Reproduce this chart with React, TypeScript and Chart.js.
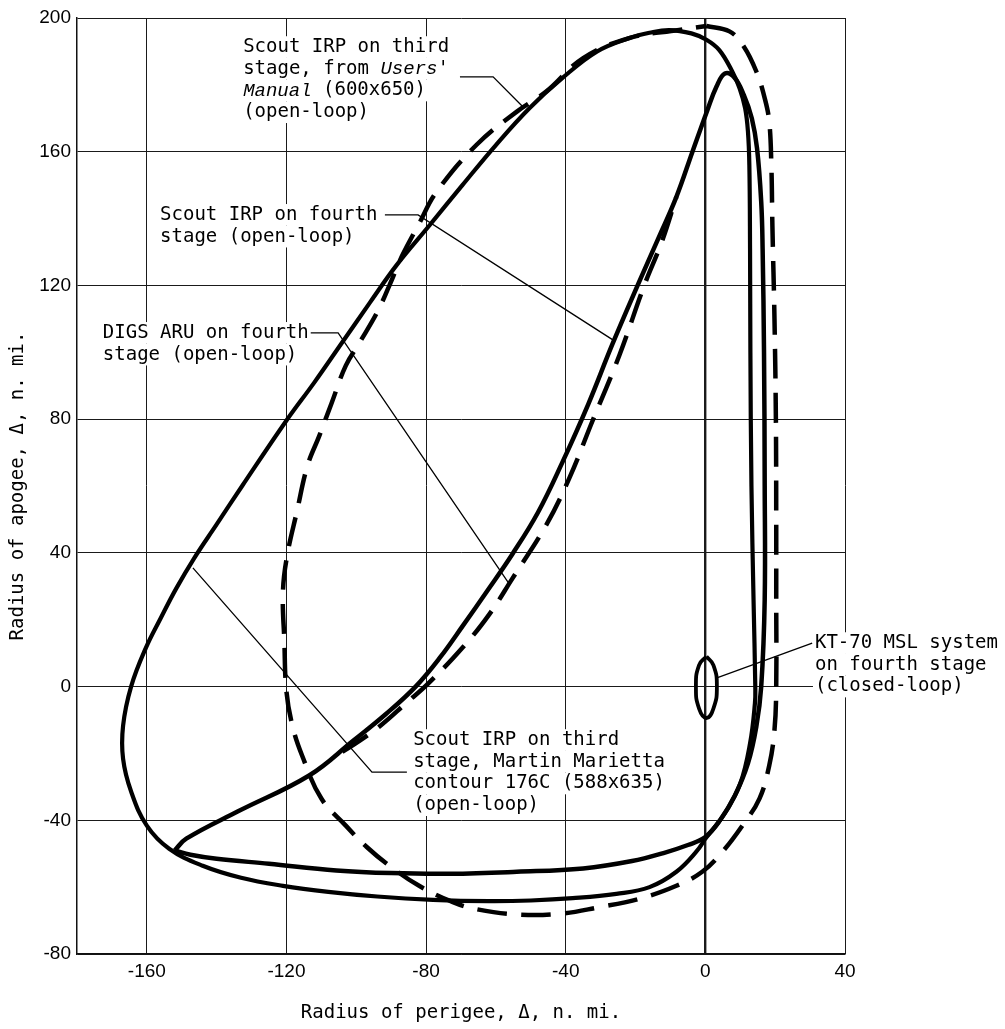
import React, { useEffect, useRef } from 'react';
import { Chart, registerables } from 'chart.js';

Chart.register(...registerables);

type Pt = [number, number];

// ---------- data ----------
const xTickValues = [-160, -120, -80, -40, 0, 40];
const yTickValues = [-80, -40, 0, 40, 80, 120, 160, 200];

const xTitle = 'Radius of perigee, \u0394, n. mi.';
const yTitle = 'Radius of apogee, \u0394, n. mi.';

// Scout IRP on third stage, Martin Marietta contour 176C (588x635) (open-loop)
const martinMariettaContour: Pt[] = [
  [0, -45.5], [5.5, -38], [10, -29], [12.8, -17], [14.2, -5], [14.3, 0], [13.8, 26], [13.2, 60],
  [12.9, 100], [12.8, 131], [12.6, 156], [12.2, 166], [11.4, 173], [9.8, 179], [7.7, 184], [4, 190.4],
  [0.3, 193.5], [-4, 195.4], [-10.3, 196.4], [-16, 195.6], [-21.8, 194], [-31, 190], [-41, 182],
  [-50.4, 173], [-60, 162], [-69.6, 150], [-79, 138], [-88.5, 126], [-96, 115], [-104, 103],
  [-112, 91], [-120, 79.6], [-132.7, 60], [-140, 48.5], [-146.5, 38.3], [-151.6, 29.3], [-156, 20.5],
  [-160.3, 11.5], [-164.5, 0], [-166.8, -11.7], [-166.8, -21.6], [-164.5, -31.4], [-160, -41.6], [-153.6, -48.5],
  [-144, -53.6], [-133, -57.2], [-121, -59.6], [-108, -61.4], [-94, -62.8], [-78, -63.8], [-62, -64.2],
  [-50, -64], [-38, -63.3], [-25.5, -62], [-16, -60], [-8.3, -55.4], [-2.6, -49.4], [0, -45.5],
];

// Scout IRP on fourth stage (open-loop)
const scoutIrpFourthStage: Pt[] = [
  [-152, -49], [-148.7, -45.5], [-134, -37.4], [-113.5, -26.6], [-101, -16.3], [-91.5, -8.2], [-83, 0],
  [-76, 8.7], [-69.6, 18], [-62.5, 28.6], [-55.3, 39.6], [-48, 52], [-41, 67], [-33.5, 84.6],
  [-26.6, 102.5], [-19, 121], [-13.5, 134], [-8.3, 146.5], [-3.7, 160], [0.6, 172.5], [3.2, 179.5],
  [5.6, 183.4], [8.3, 182.2], [11, 177], [13.3, 170], [14.8, 161], [16, 145], [16.4, 131], [16.8, 100],
  [17, 60], [17, 26], [16, 0], [14.6, -12], [12.2, -23], [8.5, -32.5], [4.2, -40], [0, -45],
  [-5, -47.4], [-12, -49.8], [-21, -52.2], [-35, -54.4], [-54, -55.4], [-73, -56], [-90, -55.8],
  [-105.7, -55], [-125, -53], [-140, -51.5], [-147.5, -50.3], [-152, -49],
];

// DIGS ARU on fourth stage (open-loop) – visible where it leaves the fourth-stage IRP curve
const digsAruFourthStage: Pt[] = [
  [-104, -19.5], [-99, -16.2], [-92.5, -11.2], [-86, -5.2], [-79.5, 0.8], [-69.6, 11.6],
  [-61.9, 21.6], [-55.3, 32.3], [-45.6, 48.3], [-39, 62.3], [-32.4, 79.3], [-24.6, 99.2],
  [-17.5, 120], [-12.5, 133], [-8.3, 146.5],
];

// Scout IRP on third stage, from Users' Manual (600x650) (open-loop)
const usersManualContour: Pt[] = [
  [0.3, 197.6], [6.9, 196], [11, 191.5], [14.6, 184], [17, 176], [18.3, 169], [18.9, 156], [19.2, 138],
  [19.8, 110], [20.2, 80], [20.3, 50], [20.3, 26], [20.3, 0], [19.8, -13], [18.3, -23.6], [15.5, -33.5],
  [10.6, -41.6], [4.9, -49.4], [-0.9, -55.4], [-8.3, -59.6], [-19, -63.5], [-30.4, -66], [-41.8, -68],
  [-54, -68.2], [-65.6, -66.6], [-72.5, -64.4], [-82, -59.6], [-90.5, -53.6], [-97, -48], [-103, -41.6],
  [-110, -33.5], [-115.5, -20.7], [-118.3, -11.7], [-120, -1.5], [-120.6, 13.5], [-121, 28.4],
  [-119.8, 39.2], [-117, 52.4], [-114, 66], [-110.6, 75], [-107, 85], [-103, 96], [-99, 103], [-94, 112],
  [-90.5, 120], [-86.8, 129], [-82, 138.5], [-77, 148], [-65.6, 162], [-54, 172], [-45.6, 178],
  [-35, 188], [-21.8, 194], [-7.5, 196.4], [0.3, 197.6],
];

// KT-70 MSL system on fourth stage (closed-loop)
const kt70MslClosedLoop: Pt[] = [
  [0.3, 9], [2.3, 6.4], [3.3, 0], [2.3, -6.6], [0.3, -9.4], [-1.8, -6.6], [-2.7, 0], [-1.8, 6.4], [0.3, 9],
];

// ---------- annotations (text in data-anchored positions) ----------
type Seg = { t: string; i?: boolean };
type Note = { lines: Seg[][]; at: Pt; leader: Pt[] };

const notes: Note[] = [
  {
    lines: [
      [{ t: 'Scout IRP on third' }],
      [{ t: 'stage, from ' }, { t: 'Users', i: true }, { t: "'" }],
      [{ t: 'Manual', i: true }, { t: ' (600x650)' }],
      [{ t: '(open-loop)' }],
    ],
    at: [-132.4, 191.3],
    leader: [[-70.3, 182.4], [-60.8, 182.4], [-52.5, 173.7]],
  },
  {
    lines: [[{ t: 'Scout IRP on fourth' }], [{ t: 'stage (open-loop)' }]],
    at: [-156.2, 141.1],
    leader: [[-91.8, 141.1], [-82.3, 141.1], [-26.5, 103.7]],
  },
  {
    lines: [[{ t: 'DIGS ARU on fourth' }], [{ t: 'stage (open-loop)' }]],
    at: [-172.6, 105.8],
    leader: [[-113.3, 105.8], [-105.2, 105.8], [-56.0, 30.4]],
  },
  {
    lines: [
      [{ t: 'Scout IRP on third' }],
      [{ t: 'stage, Martin Marietta' }],
      [{ t: 'contour 176C (588x635)' }],
      [{ t: '(open-loop)' }],
    ],
    at: [-83.7, -16.0],
    leader: [[-85.5, -25.6], [-95.5, -25.6], [-146.8, 35.5]],
  },
  {
    lines: [[{ t: 'KT-70 MSL system' }], [{ t: 'on fourth stage' }], [{ t: '(closed-loop)' }]],
    at: [31.4, 13.0],
    leader: [[30.6, 13.0], [3.3, 2.6]],
  },
];

const MONO = '"DejaVu Sans Mono", "Liberation Mono", monospace';
const TEXT_FONT = `19px ${MONO}`;
const ITALIC_FONT = 'italic 19px "Liberation Mono", "DejaVu Sans Mono", monospace';
const LINE_H = 21.7;

const notesPlugin = {
  id: 'notes',
  afterDraw(chart: any) {
    const { ctx } = chart;
    const xs = chart.scales.x;
    const ys = chart.scales.y;
    ctx.save();
    ctx.setLineDash([]);
    for (const n of notes) {
      ctx.beginPath();
      n.leader.forEach(([lx, ly], i) => {
        const px = xs.getPixelForValue(lx);
        const py = ys.getPixelForValue(ly);
        if (i === 0) ctx.moveTo(px, py);
        else ctx.lineTo(px, py);
      });
      ctx.lineWidth = 1.3;
      ctx.strokeStyle = '#000';
      ctx.stroke();

      const left = xs.getPixelForValue(n.at[0]);
      const top = ys.getPixelForValue(n.at[1]);
      n.lines.forEach((segs, li) => {
        const cy = top + li * LINE_H;
        let w = 0;
        segs.forEach((s) => {
          ctx.font = s.i ? ITALIC_FONT : TEXT_FONT;
          w += ctx.measureText(s.t).width;
        });
        ctx.fillStyle = '#fff';
        ctx.fillRect(left - 2, cy - LINE_H / 2, w + 4, LINE_H);
        let cx = left;
        ctx.textBaseline = 'middle';
        ctx.textAlign = 'left';
        segs.forEach((s) => {
          ctx.font = s.i ? ITALIC_FONT : TEXT_FONT;
          ctx.fillStyle = '#000';
          ctx.fillText(s.t, cx, cy);
          cx += ctx.measureText(s.t).width;
        });
      });
    }
    ctx.restore();
  },
};

const toXY = (pts: Pt[]) => pts.map(([x, y]) => ({ x, y }));

export default function App() {
  const ref = useRef<HTMLCanvasElement>(null);

  useEffect(() => {
    const canvas = ref.current;
    if (!canvas) return;
    const line = (label: string, pts: Pt[], width: number, dash: number[], tension: number) => ({
      label,
      data: toXY(pts),
      showLine: true,
      borderColor: '#000',
      backgroundColor: '#000',
      borderWidth: width,
      borderDash: dash,
      borderCapStyle: 'butt' as const,
      borderJoinStyle: 'round' as const,
      tension,
      pointRadius: 0,
      pointHoverRadius: 0,
      fill: false,
    });

    const chart = new Chart(canvas, {
      type: 'scatter',
      data: {
        datasets: [
          line('KT-70 MSL system on fourth stage (closed-loop)', kt70MslClosedLoop, 3.8, [], 0.5),
          line('Scout IRP on fourth stage (open-loop)', scoutIrpFourthStage, 4.5, [], 0.4),
          line('Scout IRP on third stage, Martin Marietta contour 176C', martinMariettaContour, 4.2, [], 0.4),
          line('DIGS ARU on fourth stage (open-loop)', digsAruFourthStage, 4.5, [30, 14], 0.4),
          line("Scout IRP on third stage, from Users' Manual", usersManualContour, 4.5, [30, 14], 0.4),
        ],
      },
      options: {
        responsive: false,
        devicePixelRatio: 1,
        animation: false,
        events: [],
        layout: { padding: { left: 0, top: 18, right: 160, bottom: 0 } },
        plugins: {
          legend: { display: false },
          tooltip: { enabled: false },
        },
        scales: {
          x: {
            type: 'linear',
            min: -180,
            max: 40,
            afterBuildTicks: (scale: any) => {
              scale.ticks = xTickValues.map((v) => ({ value: v }));
            },
            afterFit: (scale: any) => {
              scale.height = 75;
            },
            grid: {
              color: '#1a1a1a',
              lineWidth: (c: any) => (c.tick && c.tick.value === 0 ? 2.4 : 1),
              drawTicks: false,
            },
            border: { display: true, color: '#111', width: 1.5 },
            ticks: {
              color: '#000',
              padding: 6,
              maxRotation: 0,
              font: { family: '"Liberation Sans", Arial, sans-serif', size: 19 },
            },
            title: {
              display: true,
              text: xTitle,
              color: '#000',
              font: { family: MONO, size: 19 },
              padding: { top: 0, bottom: 5 },
            },
          },
          y: {
            type: 'linear',
            min: -80,
            max: 200,
            afterBuildTicks: (scale: any) => {
              scale.ticks = yTickValues.map((v) => ({ value: v }));
            },
            afterFit: (scale: any) => {
              scale.width = 77;
            },
            grid: { color: '#1a1a1a', lineWidth: 1, drawTicks: false },
            border: { display: true, color: '#111', width: 1.5 },
            ticks: {
              color: '#000',
              padding: 6,
              font: { family: '"Liberation Sans", Arial, sans-serif', size: 19 },
            },
            title: {
              display: true,
              text: yTitle,
              color: '#000',
              font: { family: MONO, size: 19 },
              padding: { top: 7, bottom: 0 },
            },
          },
        },
      },
      plugins: [notesPlugin],
    } as any);

    return () => chart.destroy();
  }, []);

  return (
    <div style={{ position: 'absolute', left: 0, top: 0, width: 1005, height: 1029, background: '#fff' }}>
      <canvas ref={ref} width={1005} height={1029} style={{ display: 'block', width: 1005, height: 1029 }} />
    </div>
  );
}
